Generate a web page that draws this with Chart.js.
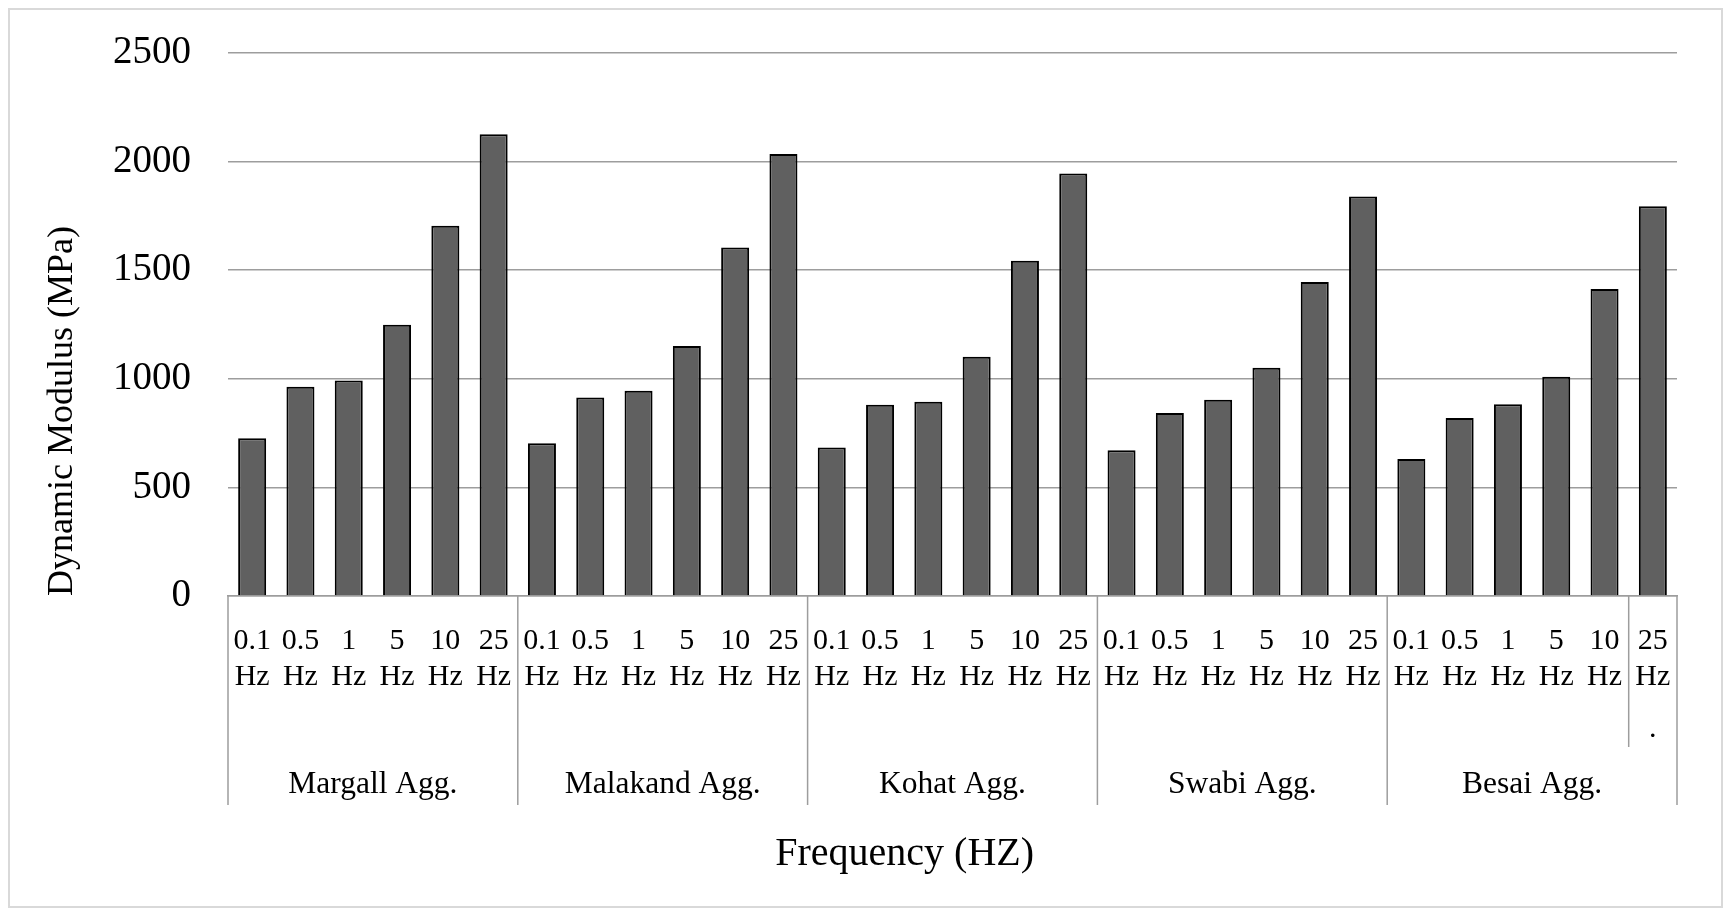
<!DOCTYPE html>
<html>
<head>
<meta charset="utf-8">
<title>Dynamic Modulus vs Frequency</title>
<script src="https://cdn.jsdelivr.net/npm/chart.js@4/dist/chart.umd.min.js"></script>
<style>
  html, body { margin: 0; padding: 0; background: #fff; }
  #wrap { width: 1730px; height: 916px; }
</style>
</head>
<body>
<div id="wrap"><canvas id="chart" width="1730" height="916"></canvas></div>
<script>
// --- data ---
var groups = ['Margall Agg.', 'Malakand Agg.', 'Kohat Agg.', 'Swabi Agg.', 'Besai Agg.'];
var freqs = ['0.1', '0.5', '1', '5', '10', '25'];
var margall = [726, 963, 992, 1249, 1705, 2126];
var malakand = [703, 914, 945, 1151, 1605, 2035];
var kohat = [684, 880, 894, 1101, 1544, 1945];
var swabi = [671, 843, 903, 1051, 1446, 1839];
var besai = [631, 820, 883, 1009, 1413, 1794];
var yTicks = [0, 500, 1000, 1500, 2000, 2500];

(function () {
  'use strict';

  var FONT = '"Liberation Serif", "Times New Roman", serif';
  var GRID = '#9d9d9d';
  var perGroup = freqs.length;

  var labels = [];
  var values = [];
  [margall, malakand, kohat, swabi, besai].forEach(function (series) {
    series.forEach(function (v, i) {
      labels.push([freqs[i], 'Hz']);
      values.push(v);
    });
  });

  function line(ctx, x1, y1, x2, y2) {
    ctx.beginPath();
    ctx.moveTo(x1, y1);
    ctx.lineTo(x2, y2);
    ctx.stroke();
  }

  var frame = {
    id: 'frame',
    beforeDraw: function (chart) {
      var ctx = chart.ctx;
      ctx.save();
      ctx.fillStyle = '#fff';
      ctx.fillRect(0, 0, chart.width, chart.height);
      ctx.strokeStyle = '#d9d9d9';
      ctx.lineWidth = 2;
      ctx.strokeRect(9, 9, chart.width - 17, chart.height - 18);
      ctx.restore();
    }
  };

  // group separators, group names and x title (multi-level category axis)
  var groupAxis = {
    id: 'groupAxis',
    afterDraw: function (chart) {
      var ctx = chart.ctx;
      var x = chart.scales.x;
      var area = chart.chartArea;
      var step = x.getPixelForValue(1) - x.getPixelForValue(0);
      ctx.save();
      ctx.strokeStyle = GRID;
      ctx.lineWidth = 1.5;
      for (var g = 0; g <= groups.length; g++) {
        var px = x.getPixelForValue(g * perGroup) - step / 2;
        line(ctx, px, area.bottom, px, area.bottom + 209);
      }
      // the last label wrapped onto a third line in the original
      var lastIdx = values.length - 1;
      var last = x.getPixelForValue(lastIdx) - step / 2;
      line(ctx, last, area.bottom, last, area.bottom + 151);

      ctx.fillStyle = '#000';
      ctx.textAlign = 'center';
      ctx.textBaseline = 'middle';
      ctx.font = '30px ' + FONT;
      ctx.fillText('.', x.getPixelForValue(lastIdx), area.bottom + 133);

      ctx.font = '31.5px ' + FONT;
      groups.forEach(function (name, g) {
        var cx = x.getPixelForValue(g * perGroup + (perGroup - 1) / 2);
        ctx.fillText(name, cx, area.bottom + 189);
      });

      ctx.font = '40px ' + FONT;
      ctx.fillText('Frequency (HZ)', area.left + area.width * 0.467, area.bottom + 258);
      ctx.restore();
    }
  };

  new Chart(document.getElementById('chart').getContext('2d'), {
    type: 'bar',
    data: {
      labels: labels,
      datasets: [{
        data: values,
        backgroundColor: '#606060',
        borderColor: '#000',
        borderWidth: 2,
        barPercentage: 0.58,
        categoryPercentage: 1
      }]
    },
    options: {
      responsive: false,
      animation: false,
      layout: { padding: { top: 53, right: 53, left: 0, bottom: 0 } },
      plugins: {
        legend: { display: false },
        tooltip: { enabled: false }
      },
      scales: {
        x: {
          grid: { display: false },
          border: { display: true, color: GRID, width: 1.5 },
          ticks: {
            color: '#000',
            padding: 20,
            maxRotation: 0,
            autoSkip: false,
            font: { family: FONT, size: 30, lineHeight: 1.17 }
          },
          afterFit: function (scale) { scale.height = 320; }
        },
        y: {
          min: 0,
          max: 2500,
          afterBuildTicks: function (scale) {
            scale.ticks = yTicks.map(function (v) { return { value: v }; });
          },
          grid: { color: GRID, lineWidth: 1.5, drawTicks: false },
          border: { display: false },
          ticks: {
            color: '#000',
            padding: 37,
            font: { family: FONT, size: 39 },
            callback: function (v) { return String(v); }
          },
          title: {
            display: true,
            text: 'Dynamic Modulus (MPa)',
            align: 'start',
            color: '#000',
            padding: { top: 41, bottom: 0 },
            font: { family: FONT, size: 36 }
          },
          afterFit: function (scale) {
            scale.width = 228;
            scale.paddingTop = 0;
            scale.paddingBottom = 0;
          }
        }
      }
    },
    plugins: [frame, groupAxis]
  });
})();
</script>
</body>
</html>
